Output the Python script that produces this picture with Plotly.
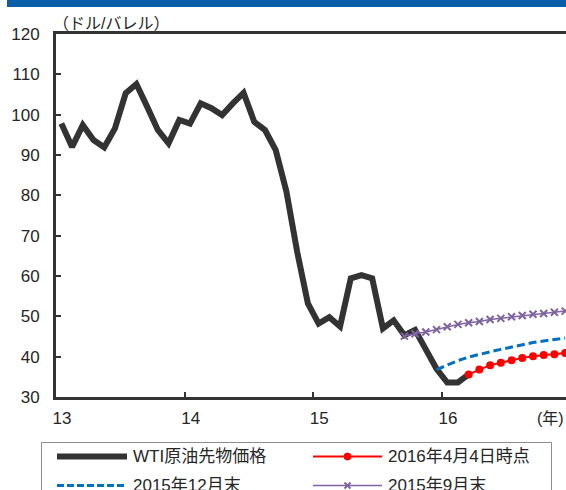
import plotly.graph_objects as go

# Monthly WTI crude oil futures price (USD/bbl), Jan 2013 - Mar 2016
start_year = 2013
wti_price = [
    97.8, 92.0, 97.4, 93.7, 91.9, 96.6, 105.3, 107.6, 102.0, 96.2, 92.9, 98.7,
    97.8, 102.8, 101.6, 99.9, 102.8, 105.4, 98.2, 96.2, 91.2, 80.9, 66.0, 53.2,
    48.2, 49.8, 47.5, 59.4, 60.2, 59.4, 47.0, 49.0, 45.3, 46.6, 41.8, 37.0,
    33.6, 33.6, 35.6,
]

# Futures curves: month index (0 = Jan 2013) where each curve begins, and its values
curve_apr2016_start = 38
curve_apr2016 = [35.6, 36.8, 37.9, 38.5, 39.1, 39.7, 40.1, 40.4, 40.6, 40.9]

curve_dec2015_start = 35
curve_dec2015 = [36.8, 38.0, 39.0, 39.9, 40.6, 41.2, 41.8, 42.4, 43.0, 43.5, 43.9, 44.3, 44.6]

curve_sep2015_start = 32
curve_sep2015 = [45.1, 45.7, 46.1, 46.7, 47.4, 48.0, 48.4, 48.7, 49.2, 49.5, 49.9, 50.2,
                 50.5, 50.7, 51.0, 51.3]

series_names = ["WTI原油先物価格", "2016年4月4日時点", "2015年12月末", "2015年9月末"]
x_tick_vals = [13, 14, 15, 16]
x_tick_text = ["13", "14", "15", "16"]
y_tick_vals = [30, 40, 50, 60, 70, 80, 90, 100, 110, 120]


def month_pos(idx):
    """Mid-month position on a two-digit-year axis."""
    return (start_year - 2000) + (idx + 0.5) / 12


def positions(first, n):
    return [month_pos(first + k) for k in range(n)]


FONT = "Liberation Sans, Noto Sans CJK JP, sans-serif"
TXT = "#262626"
AX = "#333333"
C_WTI = "#333333"
C_RED = "#ff0000"
C_BLUE = "#0070c0"
C_PURPLE = "#8064a2"

W, H = 566, 490
ML, MR, MT, MB = 56, 0, 34, 93


def px(x):
    return (x - ML) / (W - ML - MR)


def py(y):
    return (H - MB - y) / (H - MT - MB)


fig = go.Figure()

fig.add_trace(go.Scatter(
    x=positions(0, len(wti_price)), y=wti_price, mode="lines",
    name=series_names[0], line=dict(color=C_WTI, width=6),
))
fig.add_trace(go.Scatter(
    x=positions(curve_dec2015_start, len(curve_dec2015)), y=curve_dec2015, mode="lines",
    name=series_names[2], line=dict(color=C_BLUE, width=3, dash="8px,4px"),
))
fig.add_trace(go.Scatter(
    x=positions(curve_sep2015_start, len(curve_sep2015)), y=curve_sep2015, mode="lines+markers",
    name=series_names[3], line=dict(color=C_PURPLE, width=1.5),
    marker=dict(symbol="x-thin", size=7, line=dict(color=C_PURPLE, width=2)),
))
fig.add_trace(go.Scatter(
    x=positions(curve_apr2016_start, len(curve_apr2016)), y=curve_apr2016, mode="lines+markers",
    name=series_names[1], line=dict(color=C_RED, width=2),
    marker=dict(symbol="circle", size=8, color=C_RED),
))

shapes = []
annotations = []

# Header band
shapes.append(dict(type="rect", xref="paper", yref="paper",
                   x0=px(7), x1=px(566), y0=py(7), y1=py(0),
                   fillcolor="#0a5ea8", line=dict(width=0), layer="above"))

# Legend frame
shapes.append(dict(type="rect", xref="paper", yref="paper",
                   x0=px(41.5), x1=px(551.5), y0=py(520), y1=py(442.5),
                   fillcolor="rgba(0,0,0,0)", line=dict(color="#8c8c8c", width=1)))

legend_rows = [
    (57, 127, 456.5, series_names[0], dict(color=C_WTI, width=6), None),
    (313, 382, 456.5, series_names[1], dict(color=C_RED, width=2), "dot"),
    (57, 127, 485.5, series_names[2], dict(color=C_BLUE, width=3, dash="7px,3px"), None),
    (313, 382, 485.5, series_names[3], dict(color=C_PURPLE, width=1.5), "x"),
]
for x0, x1, yc, label, ln, mk in legend_rows:
    shapes.append(dict(type="line", xref="paper", yref="paper",
                       x0=px(x0), x1=px(x1), y0=py(yc), y1=py(yc), line=ln))
    xm = (x0 + x1) / 2
    if mk == "dot":
        shapes.append(dict(type="circle", xref="paper", yref="paper",
                           x0=px(xm - 3.5), x1=px(xm + 3.5), y0=py(yc + 3.5), y1=py(yc - 3.5),
                           fillcolor=ln["color"], line=dict(color=ln["color"], width=1)))
    elif mk == "x":
        for a, b in ((-3, 3), (3, -3)):
            shapes.append(dict(type="line", xref="paper", yref="paper",
                               x0=px(xm - 3), x1=px(xm + 3), y0=py(yc + a), y1=py(yc + b),
                               line=dict(color=ln["color"], width=2)))
    annotations.append(dict(xref="paper", yref="paper", x=px(x1 + 4), y=py(yc),
                            text=label, showarrow=False, xanchor="left", yanchor="middle",
                            font=dict(family=FONT, size=17, color=TXT)))

# Unit labels
annotations.append(dict(xref="paper", yref="paper", x=px(51), y=py(23),
                        text="（ドル/バレル）", showarrow=False, xanchor="left",
                        yanchor="middle", font=dict(family=FONT, size=16, color=TXT)))
annotations.append(dict(xref="paper", yref="paper", x=px(566), y=py(418),
                        text="(年)", showarrow=False, xanchor="right",
                        yanchor="middle", font=dict(family=FONT, size=16, color=TXT)))

fig.update_layout(
    width=W, height=H,
    margin=dict(l=ML, r=MR, t=MT, b=MB),
    paper_bgcolor="white", plot_bgcolor="white",
    showlegend=False,
    font=dict(family=FONT, size=17, color=TXT),
    shapes=shapes, annotations=annotations,
)
fig.update_xaxes(
    range=[13, 16.965], showgrid=False, zeroline=False,
    showline=True, linecolor=AX, linewidth=3, mirror=True,
    tickmode="array", tickvals=x_tick_vals, ticktext=x_tick_text,
    ticks="inside", ticklen=5, tickwidth=2, tickcolor=AX,
    ticklabelshift=6, ticklabelstandoff=4,
    tickfont=dict(family=FONT, size=17, color=TXT),
)
fig.update_yaxes(
    range=[30, 120], showgrid=False, zeroline=False,
    showline=True, linecolor=AX, linewidth=3,
    tickmode="array", tickvals=y_tick_vals,
    ticks="inside", ticklen=5, tickwidth=2, tickcolor=AX,
    ticklabelstandoff=10,
    tickfont=dict(family=FONT, size=17, color=TXT),
)

fig.write_html("out.html")
